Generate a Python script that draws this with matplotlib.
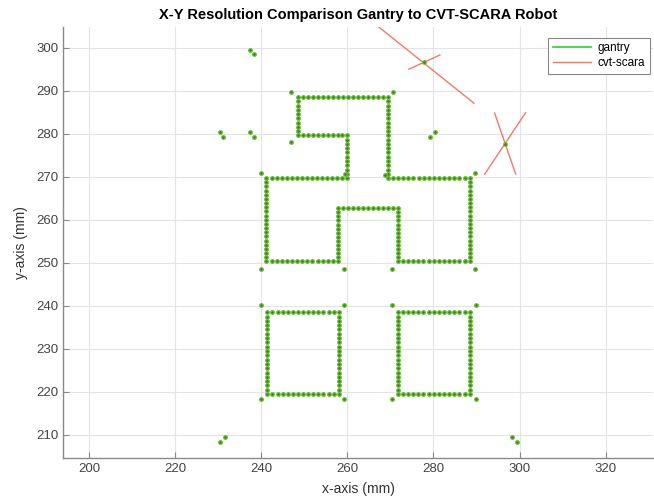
import numpy as np
import matplotlib
matplotlib.use("Agg")
import matplotlib.pyplot as plt
from matplotlib.lines import Line2D

plt.rcParams['font.family'] = ['Liberation Sans', 'DejaVu Sans']

# ---- data ----
# main closed path (corner vertices) and number of dots on each segment
path_x = [248.5, 269.4, 269.4, 288.4, 288.4, 271.7, 271.7, 257.8, 257.8, 241.2, 241.2, 260.0, 260.0, 248.5, 248.5]
path_y = [288.5, 288.5, 269.7, 269.7, 250.3, 250.3, 262.7, 262.7, 250.3, 250.3, 269.7, 269.7, 279.6, 279.6, 288.5]
path_n = [18, 19, 16, 20, 14, 13, 12, 13, 14, 20, 16, 10, 10, 9]

# left and right squares (corner vertices) and dots per side
sq_left_x = [241.4, 258.0, 258.0, 241.4, 241.4]
sq_left_y = [238.5, 238.5, 219.5, 219.5, 238.5]
sq_right_x = [271.7, 288.4, 288.4, 271.7, 271.7]
sq_right_y = [238.5, 238.5, 219.5, 219.5, 238.5]
sq_n = [14, 19, 14, 19]

# isolated gantry points (corner ticks, pairs, centres)
extra_x = [247.0, 270.7, 246.9, 240.0, 289.7, 259.4, 268.7,
           240.0, 259.3, 270.4, 289.7,
           240.0, 259.3, 240.0, 259.3, 270.4, 289.8, 270.4, 289.8,
           237.3, 238.3, 230.3, 231.2, 237.3, 238.3, 230.5, 231.5,
           298.3, 299.5, 279.2, 280.3,
           277.7, 296.6]
extra_y = [289.8, 289.8, 278.0, 270.8, 270.8, 270.6, 270.4,
           248.6, 248.6, 248.6, 248.6,
           240.2, 240.2, 218.3, 218.3, 240.2, 240.2, 218.3, 218.3,
           299.5, 298.5, 280.5, 279.3, 280.5, 279.3, 208.4, 209.5,
           209.5, 208.4, 279.3, 280.5,
           296.6, 277.6]

# cvt-scara segments (x0, x1), (y0, y1)
scara_x = [[266.3, 289.4], [274.3, 281.5], [291.9, 301.4], [294.2, 299.1]]
scara_y = [[305.6, 287.1], [295.0, 298.3], [270.6, 284.9], [284.8, 270.6]]

xticks = [200, 220, 240, 260, 280, 300, 320]
yticks = [210, 220, 230, 240, 250, 260, 270, 280, 290, 300]


def sample(xs, ys, counts):
    px, py = [], []
    for i, n in enumerate(counts):
        t = np.linspace(0, 1, n, endpoint=False)
        px.extend(xs[i] + (xs[i + 1] - xs[i]) * t)
        py.extend(ys[i] + (ys[i + 1] - ys[i]) * t)
    return px, py


gx, gy = [], []
for xs, ys, ns in [(path_x, path_y, path_n), (sq_left_x, sq_left_y, sq_n), (sq_right_x, sq_right_y, sq_n)]:
    a, b = sample(xs, ys, ns)
    gx += list(a)
    gy += list(b)
gx += extra_x
gy += extra_y

fig = plt.figure(figsize=(6.54, 5.0), dpi=100)
ax = fig.add_axes([0.0968, 0.0846, 0.9017, 0.8614])

green = '#33dd33'
red = '#f07a6a'

for xs, ys in zip(scara_x, scara_y):
    ax.plot(xs, ys, color=red, lw=1.0, zorder=2)

ax.plot(gx, gy, linestyle='none', marker='o', ms=2.7, mfc='#66664a', mec='#5ccf2a', mew=0.8, zorder=3)

ax.set_xlim(194, 331)
ax.set_ylim(204.7, 304.8)
ax.set_xticks(xticks)
ax.set_yticks(yticks)
ax.grid(True, color='#e4e4e4', lw=0.8)
ax.set_axisbelow(True)
for s in ['top', 'right']:
    ax.spines[s].set_visible(False)
for s in ['left', 'bottom']:
    ax.spines[s].set_color('#8a8a8a')
    ax.spines[s].set_linewidth(1.0)
ax.tick_params(direction='in', length=4, width=0.8, color='#8a8a8a', labelcolor='#444444', labelsize=9.5)

ax.set_xlabel('x-axis (mm)', fontsize=10, color='#333333', labelpad=5)
ax.set_ylabel('y-axis (mm)', fontsize=10, color='#333333', labelpad=6)
ax.set_title('X-Y Resolution Comparison Gantry to CVT-SCARA Robot', fontsize=10.5, fontweight='bold', pad=6)

handles = [Line2D([0], [0], color=green, lw=1.3), Line2D([0], [0], color=red, lw=1.0)]
leg = ax.legend(handles, ['gantry', 'cvt-scara'], loc='upper right', bbox_to_anchor=(0.995, 0.975),
                borderaxespad=0, fontsize=8.5, frameon=True, fancybox=False, framealpha=1, edgecolor='#888888',
                handlelength=3.2, borderpad=0.4, labelspacing=0.2, handletextpad=0.6)
leg.get_frame().set_linewidth(0.8)

fig.savefig('out.png', dpi=100)
